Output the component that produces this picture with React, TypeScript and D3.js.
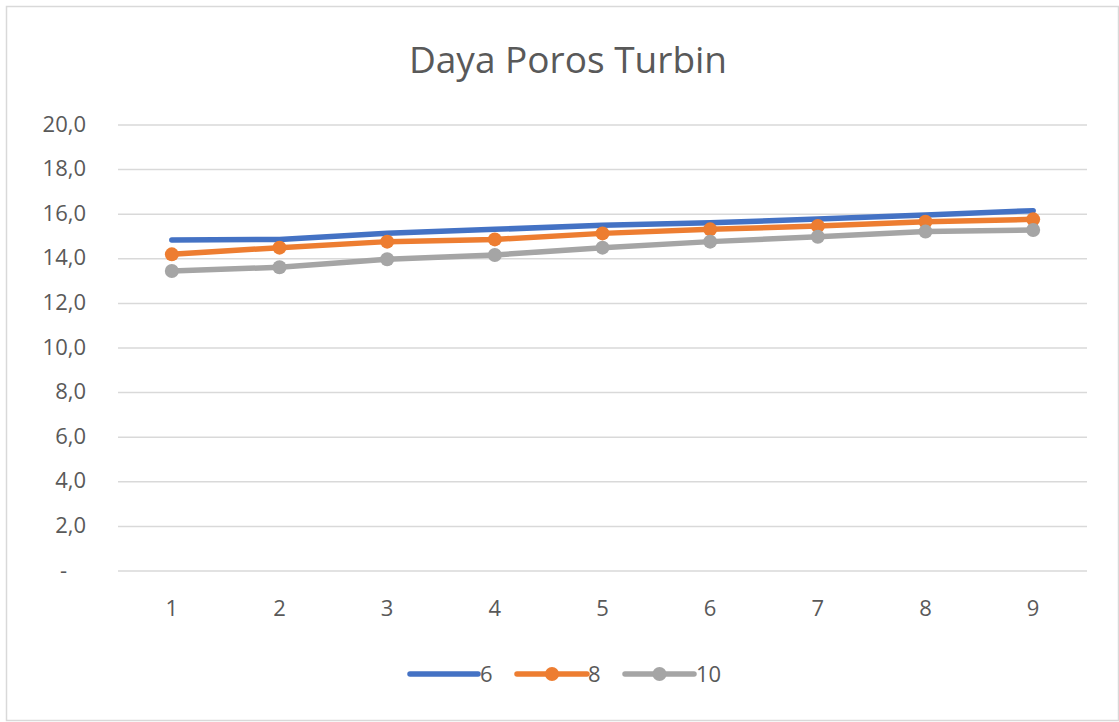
import React from "react";
import * as d3 from "d3";

const categories = [1, 2, 3, 4, 5, 6, 7, 8, 9];
const series6 = [14.84, 14.87, 15.15, 15.32, 15.5, 15.62, 15.78, 15.96, 16.16];
const series8 = [14.2, 14.5, 14.77, 14.87, 15.14, 15.32, 15.47, 15.66, 15.77];
const series10 = [13.45, 13.62, 13.98, 14.17, 14.5, 14.77, 14.99, 15.22, 15.29];
const yTicks = [0, 2, 4, 6, 8, 10, 12, 14, 16, 18, 20];
const seriesNames = ["6", "8", "10"];
const seriesColors = ["#4472C4", "#ED7D31", "#A5A5A5"];
const seriesMarkers = [false, true, true];
const title = "Daya Poros Turbin";

const W = 1119;
const H = 722;
const plotLeft = 118;
const plotRight = 1087;
const plotTop = 125;
const plotBottom = 571;
const FONT = "'Open Sans', 'Segoe UI', sans-serif";
const TEXT = "#595959";
const LABEL_SIZE = 22;

export default function App() {
  const x = d3.scaleBand<number>().domain(categories).range([plotLeft, plotRight]).padding(0);
  const cx = (c: number) => (x(c) as number) + x.bandwidth() / 2;
  const y = d3.scaleLinear().domain([0, 20]).range([plotBottom, plotTop]);
  const allSeries = [series6, series8, series10];
  const line = d3
    .line<number>()
    .x((_, i) => cx(categories[i]))
    .y((d) => y(d));

  const fmt = (v: number) => (v === 0 ? "-" : d3.format(".1f")(v).replace(".", ","));

  const legendItems = [
    { x0: 410, x1: 478, tx: 480 },
    { x0: 517, x1: 587, tx: 588 },
    { x0: 625, x1: 694, tx: 696 },
  ];
  const legendY = 674;

  return (
    <svg
      width={W}
      height={H}
      style={{ position: "absolute", left: 0, top: 0, background: "#fff" }}
      fontFamily={FONT}
    >
      <rect x={6.5} y={6.5} width={1112} height={714} fill="#fff" stroke="#D9D9D9" strokeWidth={1.5} />
      <text x={568} y={73} textAnchor="middle" fontSize={37} fill={TEXT}>
        {title}
      </text>
      {yTicks.map((t) => (
        <g key={t}>
          <line x1={plotLeft} x2={plotRight} y1={y(t)} y2={y(t)} stroke="#D9D9D9" strokeWidth={1.5} />
          <text
            x={t === 0 ? 67 : 86}
            y={y(t)}
            dy="0.3em"
            textAnchor="end"
            fontSize={LABEL_SIZE}
            fill={TEXT}
          >
            {fmt(t)}
          </text>
        </g>
      ))}
      {categories.map((c) => (
        <text key={c} x={cx(c)} y={608} dy="0.35em" textAnchor="middle" fontSize={LABEL_SIZE} fill={TEXT}>
          {c}
        </text>
      ))}
      {allSeries.map((s, si) => (
        <g key={si}>
          <path
            d={line(s) || ""}
            fill="none"
            stroke={seriesColors[si]}
            strokeWidth={5.5}
            strokeLinecap="round"
            strokeLinejoin="round"
          />
          {seriesMarkers[si] &&
            s.map((v, i) => (
              <circle key={i} cx={cx(categories[i])} cy={y(v)} r={7} fill={seriesColors[si]} />
            ))}
        </g>
      ))}
      {legendItems.map((it, i) => (
        <g key={i}>
          <line
            x1={it.x0}
            x2={it.x1}
            y1={legendY}
            y2={legendY}
            stroke={seriesColors[i]}
            strokeWidth={5.5}
            strokeLinecap="round"
          />
          {seriesMarkers[i] && <circle cx={(it.x0 + it.x1) / 2} cy={legendY} r={7} fill={seriesColors[i]} />}
          <text x={it.tx} y={legendY} dy="0.35em" fontSize={LABEL_SIZE} fill={TEXT}>
            {seriesNames[i]}
          </text>
        </g>
      ))}
    </svg>
  );
}
